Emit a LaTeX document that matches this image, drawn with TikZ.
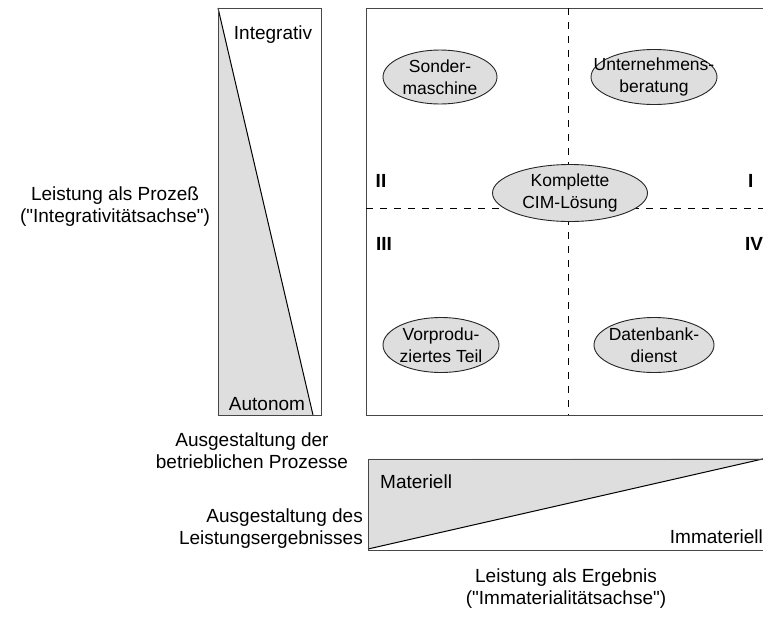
\documentclass[tikz,border=0pt]{standalone}
\usepackage{fontspec}
\newfontfamily\arial{Liberation Sans}
\usetikzlibrary{shapes.geometric}
\definecolor{panelgray}{RGB}{222,222,222}
\definecolor{frame}{RGB}{70,70,70}
\tikzset{
  txt/.style={inner sep=0pt, font=\arial\fontsize{19}{22}\selectfont, align=center},
  bubtxt/.style={inner sep=0pt, font=\arial\fontsize{17.5}{21.5}\selectfont, align=center},
  roman/.style={inner sep=0pt, font=\arial\fontsize{19}{22}\selectfont\bfseries},
  bubble/.style={ellipse, draw=black!85, fill=panelgray, line width=0.9pt, inner sep=0pt},
  boxline/.style={draw=frame, line width=1pt},
  slope/.style={draw=black, line width=1pt},
  quadline/.style={draw=black, line width=0.9pt, dash pattern=on 7pt off 7pt}
}
\begin{document}
\begin{tikzpicture}[x=1pt,y=-1pt]
\useasboundingbox (0,0) rectangle (763,630);
\clip (0,0) rectangle (763,630);
\fill[white] (0,0) rectangle (763,630);

% process axis bar (integrative -> autonomous)
\fill[panelgray] (218,8) -- (313,415) -- (218,415) -- cycle;
\draw[slope] (218,8) -- (313,415);
\draw[boxline] (218,8) rectangle (321,415);
\node[txt] (integ) at (273,35) {Integrativ};
\node[txt] (auton) at (267,404) {Autonom};

% result axis bar (material -> immaterial)
\fill[panelgray] (368,459) -- (368,549) -- (767,458) -- cycle;
\draw[slope] (368,549) -- (767,458);
\draw[boxline] (368,459) rectangle (790,550);
\node[txt, anchor=west] (mat) at (380,482) {Materiell};
\node[txt, anchor=east] (immat) at (763,537) {Immateriell};

% portfolio field with quadrants
\draw[boxline] (790,8) -- (366,8) -- (366,415) -- (790,415);
\coordinate (vtop) at (568,8);
\coordinate (vbot) at (568,415);
\coordinate (hleft) at (366,208);
\coordinate (hright) at (790,208);
\draw[quadline] (vtop) -- (vbot);
\draw[quadline] (hleft) -- (hright);

\node[roman] (q2) at (381,181) {II};
\node[roman, anchor=west] (q1) at (748,181) {I};
\node[roman] (q3) at (384,244) {III};
\node[roman, anchor=west] (q4) at (745,244) {IV};

% service examples
\node[bubble, minimum width=114pt, minimum height=54pt] (sonder) at (440,77) {};
\node[bubtxt] (sonderT) at (sonder) {Sonder-\\maschine};
\node[bubble, minimum width=126pt, minimum height=55pt] (berat) at (654,77) {};
\node[bubtxt] (beratT) at (berat) {Unternehmens-\\beratung};
\node[bubble, minimum width=155pt, minimum height=57pt] (cim) at (570,193) {};
\node[bubtxt] (cimT) at (cim) {Komplette\\CIM-Lösung};
\node[bubble, minimum width=116pt, minimum height=55pt] (vorpr) at (441,345) {};
\node[bubtxt] (vorprT) at (vorpr) {Vorprodu-\\ziertes Teil};
\node[bubble, minimum width=120pt, minimum height=55pt] (daten) at (654,345) {};
\node[bubtxt] (datenT) at (daten) {Datenbank-\\dienst};

% axis captions
\node[txt] (prozess) at (115,207) {Leistung als Prozeß\\("Integrativitätsachse")};
\node[txt] (gestP) at (252,451) {Ausgestaltung der\\betrieblichen Prozesse};
\node[txt, anchor=east, align=right] (gestL) at (363,529) {Ausgestaltung des\\Leistungsergebnisses};
\node[txt] (ergebnis) at (566,589) {Leistung als Ergebnis\\("Immaterialitätsachse")};
\end{tikzpicture}
\end{document}
